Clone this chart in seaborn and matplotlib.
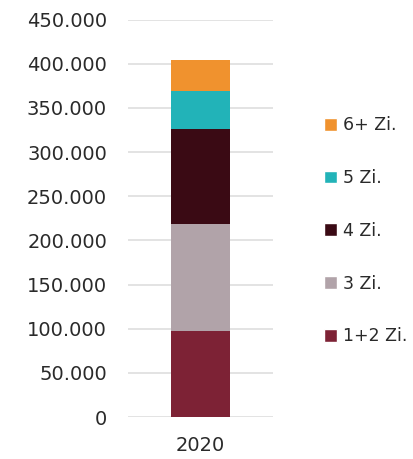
import numpy as np
import matplotlib
matplotlib.use("Agg")
import matplotlib.pyplot as plt
from matplotlib.patches import Patch
from matplotlib.ticker import FuncFormatter
import seaborn as sns

# Data
years = ["2020"]
segments = ["1+2 Zi.", "3 Zi.", "4 Zi.", "5 Zi.", "6+ Zi."]
values = [97000, 122000, 107000, 43000, 35000]
colors = ["#7d2235", "#b1a3a9", "#3a0a14", "#22b3b8", "#f0922e"]

sns.set_theme(style="white")
plt.rcParams["font.family"] = ["DejaVu Sans"]

fig = plt.figure(figsize=(4.14, 4.59), dpi=100)
ax = fig.add_axes([0.309, 0.0915, 0.35, 0.866])

# stacked bar: draw cumulative totals from the top down
cum = np.cumsum(values)
for i in reversed(range(len(segments))):
    sns.barplot(x=years, y=[cum[i]], color=colors[i], width=0.41,
                saturation=1, linewidth=0, edgecolor="none", ax=ax, zorder=2)

ax.set_ylim(0, 450000)
ax.set_yticks(np.arange(0, 450001, 50000))
ax.yaxis.set_major_formatter(FuncFormatter(lambda v, p: f"{int(v):,}".replace(",", ".")))
ax.grid(axis="y", color="#dedede", linewidth=1.2, zorder=0)
ax.set_axisbelow(True)
sns.despine(ax=ax, left=True, bottom=True)
ax.tick_params(axis="both", length=0, labelsize=14, colors="#2a2a2a")
ax.tick_params(axis="y", pad=15)
ax.tick_params(axis="x", pad=14)
ax.set_xlabel("")
ax.set_ylabel("")

handles = [Patch(facecolor=colors[i], label=segments[i]) for i in reversed(range(len(segments)))]
fig.legend(handles=handles, loc="center left", bbox_to_anchor=(0.783, 0.497),
           frameon=False, fontsize=12.5, labelcolor="#2a2a2a",
           handlelength=0.75, handleheight=0.75, handletextpad=0.35,
           labelspacing=2.0, borderpad=0, borderaxespad=0)

fig.savefig("out.png", dpi=100)
